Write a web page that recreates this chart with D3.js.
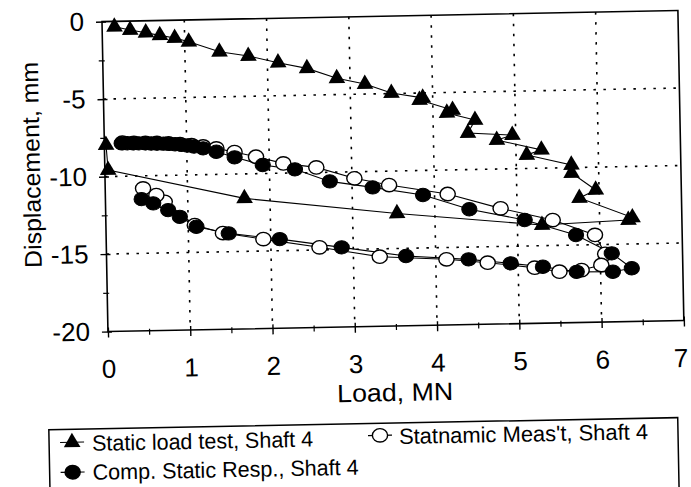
<!DOCTYPE html>
<html>
<head>
<meta charset="utf-8">
<script src="https://cdn.jsdelivr.net/npm/d3@7"></script>
<style>
  body { margin: 0; background: #fff; }
  svg { display: block; }
  text { font-family: "Liberation Sans", Arial, Helvetica, sans-serif; fill: #000; }
</style>
</head>
<body>
<svg id="chart" width="691" height="487"></svg>
<script>
// Static load test, Shaft 4 (load in MN, displacement in mm), in test order
const staticLoad = [0.15, 0.34, 0.53, 0.70, 0.88, 1.05, 1.42, 1.77, 2.13, 2.48, 2.84, 3.18, 3.50,
  3.88, 3.84, 4.24, 4.17, 4.51, 4.42, 4.96, 4.77, 5.31, 5.13, 5.67, 5.67, 5.96, 5.76, 6.40, 6.35,
  5.30, 3.54, 1.69, 0.04, 0.02];
const staticDisp = [-0.35, -0.58, -0.77, -0.96, -1.15, -1.41, -2.09, -2.40, -2.87, -3.27, -3.95, -4.35, -4.97,
  -5.32, -5.45, -6.14, -6.32, -6.81, -7.64, -7.83, -8.13, -8.82, -9.13, -9.83, -10.35, -11.47, -11.97, -13.30, -13.45,
  -13.67, -12.74, -11.58, -9.58, -7.97];

// Statnamic measurement, Shaft 4
const measLoad = [0.22, 0.36, 0.50, 0.64, 0.78, 0.92, 1.06, 1.20, 1.36, 1.58, 1.84, 2.17, 2.57, 3.03, 3.45,
  4.16, 4.80, 5.43, 5.94, 6.06, 6.01, 5.77, 5.50, 5.20, 4.63, 4.13, 3.32, 2.59, 1.91, 1.42, 1.08, 0.72, 0.62, 0.46];
const measDisp = [-7.84, -7.86, -7.88, -7.90, -7.94, -8.00, -8.08, -8.18, -8.32, -8.58, -8.91, -9.37, -9.67, -10.42, -10.90,
  -11.55, -12.54, -13.36, -14.37, -15.60, -16.32, -16.62, -16.70, -16.41, -16.03, -15.76, -15.51, -14.83, -14.23, -13.79, -13.24, -11.70, -11.26, -10.81];

// Computed static response, Shaft 4
const compLoad = [0.21, 0.28, 0.35, 0.42, 0.50, 0.57, 0.64, 0.72, 0.79, 0.86, 0.94, 1.01, 1.09, 1.20, 1.36, 1.58,
  1.92, 2.31, 2.73, 3.25, 3.86, 4.42, 5.09, 5.71, 6.14, 6.38, 6.15, 5.71, 5.30, 4.91, 4.40, 3.64, 2.86, 2.11,
  1.49, 1.10, 0.90, 0.76, 0.58, 0.44];
const compDisp = [-7.88, -7.88, -7.89, -7.90, -7.90, -7.92, -7.93, -7.95, -7.97, -8.00, -8.05, -8.10, -8.17, -8.30, -8.54, -8.92,
  -9.45, -9.77, -10.59, -11.03, -11.58, -12.56, -13.32, -14.35, -15.58, -16.57, -16.77, -16.73, -16.36, -16.10, -15.79, -15.50, -14.86, -14.25,
  -13.82, -13.35, -12.69, -12.24, -11.79, -11.50];

const xTicks = [0, 1, 2, 3, 4, 5, 6, 7];
const xMinorTicks = [0.5, 1.5, 2.5, 3.5, 4.5, 5.5, 6.5];
const yTicks = [0, -5, -10, -15, -20];
const yMinorTicks = [-2.5, -7.5, -12.5, -17.5];
const xGrid = [1, 2, 3, 4, 5, 6];
const yGrid = [-5, -10, -15];
const legendLabels = ["Static load test, Shaft 4", "Statnamic Meas't, Shaft 4", "Comp. Static Resp., Shaft 4"];

const plot = { left: 105, right: 681, top: 16, bottom: 326 };
const x = d3.scaleLinear().domain([0, 7]).range([plot.left, plot.right]);
const y = d3.scaleLinear().domain([-20, 0]).range([plot.bottom, plot.top]);

const svg = d3.select("#chart");
svg.append("rect").attr("width", 691).attr("height", 487).attr("fill", "#fff");

// whole figure sits slightly tilted on the page
const root = svg.append("g").attr("transform", "rotate(-1.1 395 175)");

// dotted grid
const grid = root.append("g").attr("stroke", "#000").attr("stroke-width", 1.6)
  .attr("stroke-dasharray", "2.5,7.5").attr("fill", "none");
grid.selectAll(".gx").data(xGrid).join("line")
  .attr("x1", d => x(d)).attr("x2", d => x(d))
  .attr("y1", plot.top).attr("y2", plot.bottom);
grid.selectAll(".gy").data(yGrid).join("line")
  .attr("x1", plot.left).attr("x2", plot.right)
  .attr("y1", d => y(d)).attr("y2", d => y(d));

// frame
root.append("rect")
  .attr("x", plot.left).attr("y", plot.top)
  .attr("width", plot.right - plot.left).attr("height", plot.bottom - plot.top)
  .attr("fill", "none").attr("stroke", "#000").attr("stroke-width", 1.6);

// plain hyphen for negative numbers
const fmt = d => String(d);

// x axis
const xAxis = root.append("g").attr("transform", `translate(0,${plot.bottom})`)
  .call(d3.axisBottom(x).tickValues(xTicks).tickSizeInner(6).tickSizeOuter(0).tickPadding(22).tickFormat(fmt));
xAxis.select(".domain").remove();
xAxis.selectAll(".tick line").attr("y1", -4).attr("stroke-width", 1.4);
xAxis.selectAll("text").attr("font-size", 26).attr("font-family", '"Liberation Sans", Arial, sans-serif')
  .attr("dx", d => d === 7 ? -4 : 0);
const xMinor = root.append("g").attr("transform", `translate(0,${plot.bottom})`)
  .call(d3.axisBottom(x).tickValues(xMinorTicks).tickSize(4).tickFormat(""));
xMinor.select(".domain").remove();
xMinor.selectAll(".tick line").attr("y1", -2).attr("stroke-width", 1.2);

// y axis
const yAxis = root.append("g").attr("transform", `translate(${plot.left},0)`)
  .call(d3.axisLeft(y).tickValues(yTicks).tickSizeInner(6).tickSizeOuter(0).tickPadding(12).tickFormat(fmt));
yAxis.select(".domain").remove();
yAxis.selectAll(".tick line").attr("x1", 4).attr("stroke-width", 1.4);
yAxis.selectAll("text").attr("font-size", 26).attr("font-family", '"Liberation Sans", Arial, sans-serif');
const yMinor = root.append("g").attr("transform", `translate(${plot.left},0)`)
  .call(d3.axisLeft(y).tickValues(yMinorTicks).tickSize(4).tickFormat(""));
yMinor.select(".domain").remove();
yMinor.selectAll(".tick line").attr("x1", 2).attr("stroke-width", 1.2);

// axis titles
root.append("text")
  .attr("x", 391).attr("y", 401)
  .attr("text-anchor", "middle").attr("font-size", 25)
  .attr("textLength", 116).attr("lengthAdjust", "spacingAndGlyphs")
  .text("Load, MN");
root.append("text")
  .attr("transform", "translate(40,158) rotate(-90)")
  .attr("text-anchor", "middle").attr("font-size", 24)
  .attr("textLength", 206).attr("lengthAdjust", "spacingAndGlyphs")
  .text("Displacement, mm");

// series
const toPoints = (xs, ys) => xs.map((v, i) => [v, ys[i]]);
const staticPts = toPoints(staticLoad, staticDisp);
const measPts = toPoints(measLoad, measDisp);
const compPts = toPoints(compLoad, compDisp);
const line = d3.line().x(d => x(d[0])).y(d => y(d[1]));
const tri = d3.symbol().type(d3.symbolTriangle).size(120);

const series = root.append("g");
series.append("path").datum(staticPts).attr("d", line)
  .attr("fill", "none").attr("stroke", "#000").attr("stroke-width", 1.1);
series.append("path").datum(measPts).attr("d", line)
  .attr("fill", "none").attr("stroke", "#000").attr("stroke-width", 1.1);
series.append("path").datum(compPts).attr("d", line)
  .attr("fill", "none").attr("stroke", "#000").attr("stroke-width", 1.1);

series.selectAll(".meas").data(measPts).join("ellipse")
  .attr("cx", d => x(d[0])).attr("cy", d => y(d[1]))
  .attr("rx", 7.6).attr("ry", 6.7)
  .attr("fill", "#fff").attr("stroke", "#000").attr("stroke-width", 1.4);
series.selectAll(".comp").data(compPts).join("ellipse")
  .attr("cx", d => x(d[0])).attr("cy", d => y(d[1]))
  .attr("rx", 7.6).attr("ry", 6.7)
  .attr("fill", "#000").attr("stroke", "#000").attr("stroke-width", 1);
series.selectAll(".stat").data(staticPts).join("path")
  .attr("transform", d => `translate(${x(d[0])},${y(d[1])})`)
  .attr("d", tri).attr("fill", "#000");

// legend
const legend = root.append("g");
legend.append("rect").attr("x", 44).attr("y", 423).attr("width", 629).attr("height", 72)
  .attr("fill", "#fff").attr("stroke", "#000").attr("stroke-width", 1.5);
const legendItems = [
  { label: legendLabels[0], mx: 67, my: 436, tx: 87, ty: 445, len: 221, kind: "tri" },
  { label: legendLabels[1], mx: 375, my: 435, tx: 394, ty: 444, len: 249, kind: "open" },
  { label: legendLabels[2], mx: 67, my: 466, tx: 87, ty: 474, len: 266, kind: "fill" }
];
legendItems.forEach(it => {
  legend.append("line").attr("x1", it.mx - 12).attr("x2", it.mx + 12)
    .attr("y1", it.my).attr("y2", it.my).attr("stroke", "#000").attr("stroke-width", 1.2);
  if (it.kind === "tri") {
    legend.append("path").attr("transform", `translate(${it.mx},${it.my})`).attr("d", tri).attr("fill", "#000");
  } else {
    legend.append("ellipse").attr("cx", it.mx).attr("cy", it.my).attr("rx", 7.6).attr("ry", 6.7)
      .attr("fill", it.kind === "open" ? "#fff" : "#000").attr("stroke", "#000").attr("stroke-width", 1.4);
  }
  legend.append("text").attr("x", it.tx).attr("y", it.ty)
    .attr("font-size", 22).attr("textLength", it.len).attr("lengthAdjust", "spacingAndGlyphs")
    .text(it.label);
});
</script>
</body>
</html>
